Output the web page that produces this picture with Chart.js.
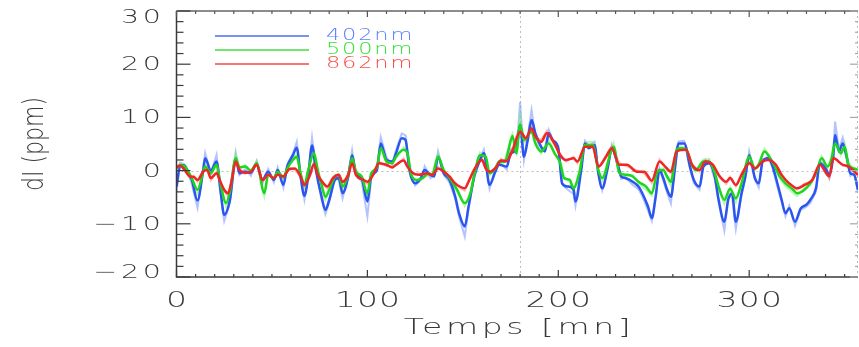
<!DOCTYPE html>
<html>
<head>
<meta charset="utf-8">
<script src="https://cdn.jsdelivr.net/npm/chart.js@4.4.1/dist/chart.umd.min.js"></script>
<style>
  html, body { margin: 0; padding: 0; background: #fff; overflow: hidden; }
</style>
</head>
<body>
<canvas id="myChart" width="859" height="347"></canvas>
<script>
// time axis in minutes, dI in ppm
// "s" = smoothed curve, "r" = raw signal
let t402 = [0,2,4,5,8,11,14,15,18,21, 23,25,28,31,33,36,39,42,45,48, 51,53,56,58,61,63,65,67,69,71,
  73,76,78,80,83,85,87,90,92,94, 97,100,102,105,107,110,113,115,118,120, 122,125,128,130,133,135,137,140,143,146,
  148,151,153,156,159,161,164,167,169,173, 175,178,180,182,184,186,188,191,193,195, 197,200,202,205,208,209,212,214,216,219,
  221,223,226,228,231,233,235,239,242,244, 247,249,251,253,255,257,259,261,263,266, 269,271,274,276,279,282,284,287,289,291,
  293,296,298,300,303,305,307,310,312,315, 317,319,321,324,327,330,332,335,337,340, 342,344,345,347,349,351,353,355,357]
let s402 = [-3,1,1,0.4,-1.7,-5.6,0.1,2.3,0,1.7, -3.6,-8.3,-5.5,2.2,-0.5,-0.2,-0.4,1.25,-1.75,-0.2, -1.75,0.1,-2.7,0.75,2.9,4.3,-1.1,-4.75,-1.1,4.7,
  0.1,-4.9,-7.4,-5.5,-1.75,-1.4,-4.25,-1.1,2.9,-0.5, -1.4,-5.8,-1.1,0.1,5.1,2,1.7,3.25,6.1,5.75, 0.1,-2.4,-1.4,0.1,-0.8,-1.1,2.6,-0.5,-1.75,-4.9,
  -8,-10.5,-6.75,-1.1,2,3.25,-2.7,-0.2,1.1,0.75, 3.2,4,8.6,2.6,5.75,9.5,7,4.5,3.6,7, 5.75,4.2,-2.4,-3,-3.6,-5.8,0.1,5.1,4.2,4.8,
  -0.5,-3.3,0.75,4.2,1.4,-1.1,-1.4,-2.1,-3,-4.25, -6.75,-8.9,-4.9,0.1,-1.4,-3.6,-4.9,0.1,5.1,5.1, 0.75,-1.75,-3,0.75,1.4,-1.1,-5.5,-9.6,-5.5,-4.25,
  -9.6,-4.25,-1.1,2.9,-1.4,-2.4,1.7,2.3,1.1,-2.7, -5.5,-8,-7.1,-9.6,-7.1,-6.4,-5.5,-3.3,1.4,0.4, -0.8,2.6,6.7,3.6,5.1,2.6,-0.5,-0.8,-3.6]
let r402 = [-4,1.5,1.2,0.8,-2.5,-7,0.5,3.3,-0.5,3, -4,-9.5,-6,3.3,-0.8,0.3,-1,1.8,-2.5,0.3, -2.2,0.6,-3.2,1.2,3.2,5.4,-1.3,-5.5,-0.8,6.2,
  0.4,-5.5,-8.2,-6,-1.5,-1.8,-5.2,-1,3.8,-0.8, -2,-8.6,-1.5,0.6,6.3,2.5,1.2,3.8,7,6.6, 0.3,-2.8,-1.8,0.8,-1.4,-0.8,3.6,-0.8,-2.2,-5.3,
  -8.6,-12.4,-7.2,-0.8,2.3,3.9,-3.4,0.4,1.6,0.2, 4,3.2,12.9,2,6.5,11.4,6.5,4,4.2,7.7, 5.9,4.6,-2.6,-3.6,-4.4,-6.6,0.6,5.6,4.6,5.4,
  -0.8,-3.7,0.6,4.8,1.1,-1.6,-1.2,-2.7,-3.5,-4.8, -7.5,-9.5,-5.2,0.4,-1.9,-4.2,-6.2,0.5,5.5,5.6, 0.3,-2.4,-3.6,1.1,1.9,-1.7,-6,-11.3,-5.1,-4.8,
  -11,-4.6,-1.4,3.6,-1.7,-3.2,2.1,2.6,0.8,-3.4, -5.8,-8.6,-6.6,-10.4,-7.4,-6.8,-6.1,-3.9,1.9,0.9, -1.4,3.2,9.2,4,6.2,2.9,-1,-0.4,-4.2]

let t500 = [0,2,4,8,11,14,15,18,21,23, 26,28,31,33,36,39,42,46,48,51, 53,56,58,61,63,65,67,69,72,74,
  76,78,80,83,85,87,90,92,94,97, 100,102,105,107,110,113,115,119,121,123, 126,129,132,134,137,140,143,147,151,154,
  156,159,162,164,167,169,172,174,176,178, 180,182,186,188,191,195,198,201,203,206, 208,211,214,218,221,223,229,232,236,239,
  242,246,249,252,255,257,259,262,264,267, 270,272,276,279,282,284,287,290,293,296, 300,303,305,308,310,313,316,319,323,325,
  329,332,335,338,341,343,345,348,350,352, 355,357]
let s500 = [0.5,1,0.9,-1.4,-3.6,-0.2,0.75,-0.5,1.1,-2.4, -6.1,-3.9,2.3,0.6,0.75,0,1.4,-4.25,-0.8,-1.4, -0.2,-1.25,0.4,2,2.6,-0.5,-2.7,0.1,3.25,0.1,
  -2.7,-4.9,-3.6,-1.1,-0.8,-3,-0.8,2.3,-0.2,-1.1, -4.25,-0.5,0.6,4.2,1.7,1.4,2.6,3.9,3.25,-0.8, -1.75,-1.4,-0.5,-0.8,2.6,0.1,-1.4,-3.6,-6.1,-4.25,
  -0.8,2.9,2.6,-0.5,0.4,1.7,1.6,4,6.5,3.25, 8.6,5.75,7.3,5.1,3.6,5.1,3.25,1.4,-1.4,-1.75, -3.3,-0.5,4.8,4.8,0.1,-1.4,4.5,-0.5,-0.8,-1.1,
  -2.1,-3,-4.25,-0.2,0.1,-1.1,-2.1,3.9,4.2,3.9, 1.1,0.1,1.7,1.7,-0.5,-3,-5.5,-3.4,-5.2,-2.4, 2.6,0.4,1.1,3.6,2.9,1.1,-1.1,-2.4,-3.6,-4.25,
  -3.6,-2.4,-0.5,2.3,0.75,2,5.1,3.25,4.5,1.1, 0.4,0.1]
let r500 = [0.2,1.4,1.1,-1.9,-4.3,-0.5,1.3,-0.8,1.6,-2.9, -6.8,-4.2,3.3,0.4,1.1,-0.4,1.8,-4.8,-0.6,-1.8, 0.1,-1.6,0.2,2.4,3.1,-0.8,-3.3,0.3,3.8,-0.2,
  -3,-5.5,-3.9,-0.8,-1.2,-3.5,-0.5,2.9,-0.5,-1.5, -5.2,-0.4,0.9,4.8,1.4,1.8,2.4,4.4,3.6,-1.1, -2.2,-1.2,-0.9,-0.5,3.2,-0.2,-1.8,-4,-6.7,-4,
  -0.5,3.4,2.3,-0.9,0.7,1.4,2,4.6,6.9,3.6, 10.5,5.3,8,5.6,3.2,5.8,3.4,1.8,-1.2,-2.2, -3.9,-0.2,5.3,5.4,-0.3,-1.8,5.1,-0.3,-1.1,-0.8,
  -2.5,-3.6,-4.7,0.3,0.4,-1.5,-2.9,4.4,4.6,4.2, 0.8,-0.2,2.1,2.2,-0.8,-3.6,-6.3,-3.2,-6,-2.6, 3.1,0.2,1.4,4.1,3.2,0.9,-1.5,-2.9,-4.2,-4.8,
  -3.2,-2.8,-0.2,2.7,0.4,2.6,6.4,3,5.2,1.6, 0.1,0.4]

let t862 = [0,2,4,7,9,11,14,16,18,21, 23,25,27,29,31,33,36,39,42,45, 48,51,53,56,59,62,65,67,70,72,
  74,77,79,82,85,87,90,92,94,98, 100,103,106,110,113,115,119,121,124,127, 131,134,137,140,143,146,151,153,156,160,
  162,164,167,170,173,176,180,183,186,188, 191,194,198,201,204,208,210,214,218,221, 225,228,232,236,241,245,249,253,256,259,
  262,267,270,274,277,281,284,288,290,293, 296,300,303,307,310,314,317,321,325,329, 333,337,342,344,349,352,357]
let s862 = [0.6,0.9,0.25,-1.1,-1.2,-1.75,-0.2,0.1,-1.4,-0.5, -2.1,-3.6,-4.25,-1.75,1.7,0.1,-0.4,-0.2,1.1,-1.75, -0.8,-1.4,-0.8,-1.1,0.25,0.4,-1.1,-2.7,-0.8,1.25,
  -0.8,-2.4,-3,-1.4,-0.8,-2.1,-0.8,1.4,-0.8,-1.75, -2.1,-0.8,1.4,1.1,0.6,1.1,1.9,0.75,-0.5,-0.8, -0.5,-0.8,0.4,-0.2,-1.1,-2.4,-3.3,-2.1,0.25,2,
  0.4,-0.2,0.4,1.9,1.8,3.8,7.3,6.1,7.9,6.4, 5.4,7,5.1,2.9,2,2.3,1.7,4.5,4.5,0.75, 2.6,4.2,1.1,1.1,-0.2,-0.2,-1.9,1.7,0.75,-0.2,
  3.6,3.9,1.1,0.1,1.7,1.1,-0.8,-2.1,-1.4,-2.7, -0.8,1.4,0.4,1.7,2,1.1,-0.8,-2.4,-3.3,-2.7, -1.75,1.1,-1.1,2.3,1.1,0.75,-0.8]
let r862 = [0.9,1.2,0.1,-1.4,-1,-2.1,0.1,0.5,-1.8,-0.2, -2.4,-3.9,-4.8,-1.5,2.1,0.3,-0.6,0,1.4,-2.1, -0.6,-1.7,-0.6,-1.3,0.5,0.2,-1.3,-3,-0.5,1.6,
  -1,-2.7,-3.4,-1.2,-1,-2.4,-0.5,1.8,-1,-2, -2.5,-0.6,1.7,0.8,0.9,0.9,2.3,0.5,-0.8,-0.6, -0.8,-0.6,0.7,-0.5,-1.3,-2.7,-3.8,-1.8,0,2.4,
  0.6,-0.4,0.6,2.2,1.6,4.3,8.5,5.6,8.6,6.2, 5.8,7.5,4.7,3.2,1.7,2.6,1.4,4.9,4.8,0.5, 2.9,4.6,1.4,0.8,0.1,-0.5,-2.3,2.1,0.5,-0.5,
  4,4.3,1.3,-0.2,2,0.8,-1.1,-2.5,-1.2,-3, -0.5,1.8,0.2,2,2.3,0.8,-1.1,-2.7,-3.6,-2.4, -2.1,1.4,-1.4,2.7,0.9,1,-1.1]

let labels = ["402nm", "500nm", "862nm"]
let lineColors = ["#2a55f0", "#1fd61f", "#f02626"]
let rawColors = ["rgba(105,135,255,0.5)", "rgba(110,240,110,0.5)", "rgba(255,115,115,0.5)"]
let textColors = ["#5f80ff", "#36e236", "#ff4848"]

const SX = 1.5 // the old plot font is wide, stretch text horizontally
const FONT = '"DejaVu Sans", sans-serif'

function pts(t, v) {
  return t.map((x, i) => ({ x: x, y: v[i] }))
}

function wideText(ctx, str, x, y, size, align, color, spacing) {
  ctx.save()
  ctx.font = "200 " + size + "px " + FONT
  ctx.letterSpacing = spacing + "px"
  ctx.fillStyle = color
  ctx.textAlign = "left"
  ctx.textBaseline = "middle"
  ctx.translate(x, y)
  ctx.scale(SX, 1)
  let w = ctx.measureText(str).width - spacing
  let x0 = align === "center" ? -w / 2 : align === "right" ? -w : 0
  ctx.fillText(str, x0, 0)
  ctx.restore()
}

let frame = {
  id: "frame",
  beforeDatasetsDraw(chart) {
    let { ctx, chartArea: a, scales: { x, y } } = chart
    ctx.save()
    ctx.strokeStyle = "#bdbdbd"
    ctx.lineWidth = 1
    ctx.setLineDash([2, 3])
    let px = Math.round(x.getPixelForValue(180)) + 0.5
    let py = Math.round(y.getPixelForValue(0)) + 0.5
    ctx.beginPath()
    ctx.moveTo(px, a.top); ctx.lineTo(px, a.bottom)
    ctx.moveTo(a.left, py); ctx.lineTo(a.right, py)
    // right edge of the box is faint
    ctx.moveTo(a.right - 0.5, a.top); ctx.lineTo(a.right - 0.5, a.bottom)
    ctx.stroke()
    ctx.restore()
  },
  afterDatasetsDraw(chart) {
    let { ctx, chartArea: a, scales: { x, y } } = chart
    ctx.save()
    ctx.lineWidth = 1.5
    ctx.strokeStyle = "#3a3a3a"
    ctx.beginPath()
    ctx.moveTo(a.left, a.top); ctx.lineTo(a.left, a.bottom); ctx.lineTo(a.right, a.bottom)
    ctx.stroke()
    ctx.strokeStyle = "#666"
    ctx.beginPath()
    ctx.moveTo(a.left, a.top); ctx.lineTo(a.right, a.top)
    ctx.stroke()

    // y ticks, left and right
    ctx.lineWidth = 1.2
    for (let v = -20; v <= 30; v += 2) {
      let p = y.getPixelForValue(v)
      let major = v % 10 === 0
      ctx.strokeStyle = "#3a3a3a"
      ctx.beginPath()
      ctx.moveTo(a.left, p); ctx.lineTo(a.left + (major ? 14 : 7), p)
      ctx.stroke()
      ctx.strokeStyle = "#a8a8a8"
      ctx.beginPath()
      ctx.moveTo(a.right, p); ctx.lineTo(a.right - (major ? 8 : 3), p)
      ctx.stroke()
    }
    // x ticks, bottom and top
    for (let v = 0; v <= 350; v += 10) {
      let p = x.getPixelForValue(v)
      let major = v % 100 === 0
      ctx.strokeStyle = "#3a3a3a"
      ctx.beginPath()
      ctx.moveTo(p, a.bottom); ctx.lineTo(p, a.bottom - (major ? 7 : 3))
      ctx.stroke()
      ctx.strokeStyle = "#555"
      ctx.beginPath()
      ctx.moveTo(p, a.top); ctx.lineTo(p, a.top + (major ? 6 : 3))
      ctx.stroke()
    }
    ctx.restore()

    // tick labels
    for (let v = -20; v <= 30; v += 10) {
      let p = y.getPixelForValue(v)
      p = Math.min(Math.max(p, a.top + 6), a.bottom - 5)
      let s = v < 0 ? "\u2212" + Math.abs(v) : String(v)
      wideText(ctx, s, 161, p + 1, 19, "right", "#383838", 2.5)
    }
    for (let v = 0; v <= 300; v += 100) {
      wideText(ctx, String(v), x.getPixelForValue(v), 301, 22, "center", "#383838", 0.8)
    }
    wideText(ctx, "Temps [mn]", (a.left + a.right) / 2, 328, 22, "center", "#383838", 2.4)

    // y title, rotated
    ctx.save()
    ctx.translate(36, (a.top + a.bottom) / 2)
    ctx.rotate(-Math.PI / 2)
    ctx.font = "200 22px " + FONT
    ctx.fillStyle = "#383838"
    ctx.textAlign = "center"
    ctx.textBaseline = "middle"
    ctx.scale(1, 1.3)
    ctx.fillText("dI (ppm)", 0, 0)
    ctx.restore()

    // legend
    labels.forEach((lab, i) => {
      let ly = 36 + i * 14
      ctx.save()
      ctx.strokeStyle = lineColors[i]
      ctx.globalAlpha = 0.85
      ctx.lineWidth = 1.5
      ctx.beginPath()
      ctx.moveTo(215, ly); ctx.lineTo(309, ly)
      ctx.stroke()
      ctx.restore()
      wideText(ctx, lab, 326, ly, 15, "left", textColors[i], 1.2)
    })
  }
}

let series = [[t402, s402, r402], [t500, s500, r500], [t862, s862, r862]]
let datasets = []
series.forEach((s, i) => {
  datasets.push({
    label: labels[i] + " raw",
    data: pts(s[0], s[2]),
    borderColor: rawColors[i],
    borderWidth: 2,
    tension: 0,
    order: 10 - i
  })
})
series.forEach((s, i) => {
  datasets.push({
    label: labels[i],
    data: pts(s[0], s[1]),
    borderColor: lineColors[i],
    borderWidth: 2.5,
    cubicInterpolationMode: "monotone",
    order: 3 - i
  })
})

let ctx = document.getElementById("myChart").getContext("2d")
let myChart = new Chart(ctx, {
  type: "line",
  data: { datasets: datasets },
  options: {
    responsive: false,
    animation: false,
    layout: { padding: { top: 11, right: 1, left: 0, bottom: 0 } },
    elements: { point: { radius: 0 } },
    plugins: { legend: { display: false }, tooltip: { enabled: false } },
    scales: {
      x: {
        type: "linear", min: 0, max: 357,
        grid: { display: false }, border: { display: false }, ticks: { display: false },
        afterFit: (s) => { s.height = 70 }
      },
      y: {
        min: -20, max: 30,
        grid: { display: false }, border: { display: false }, ticks: { display: false },
        afterFit: (s) => { s.width = 176.5 }
      }
    }
  },
  plugins: [frame]
})
</script>
</body>
</html>
